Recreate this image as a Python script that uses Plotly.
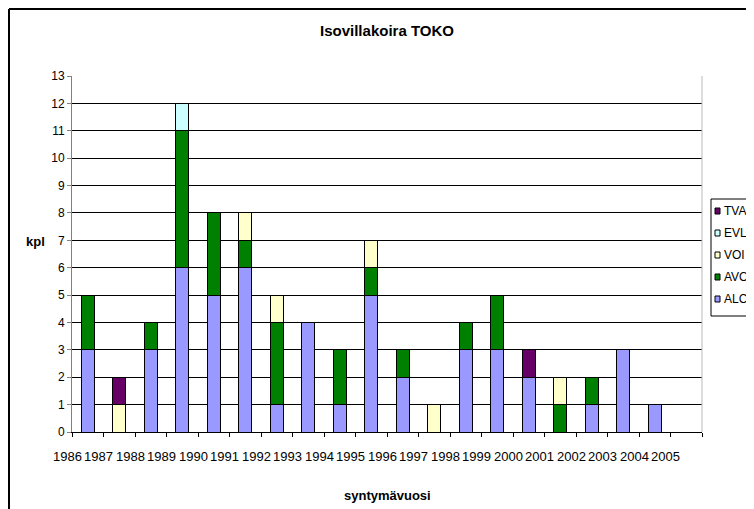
import plotly.graph_objects as go

# stacked counts per birth year
years = [str(y) for y in range(1986, 2006)]
alc = [3, 0, 3, 6, 5, 6, 1, 4, 1, 5, 2, 0, 3, 3, 2, 0, 1, 3, 1, 0]
avo = [2, 0, 1, 5, 3, 1, 3, 0, 2, 1, 1, 0, 1, 2, 0, 1, 1, 0, 0, 0]
voi = [0, 1, 0, 0, 0, 1, 1, 0, 0, 1, 0, 1, 0, 0, 0, 1, 0, 0, 0, 0]
evl = [0, 0, 0, 1, 0, 0, 0, 0, 0, 0, 0, 0, 0, 0, 0, 0, 0, 0, 0, 0]
tva = [0, 1, 0, 0, 0, 0, 0, 0, 0, 0, 0, 0, 0, 0, 1, 0, 0, 0, 0, 0]

series = [
    ("ALC", alc, "#9999FF"),
    ("AVO", avo, "#008000"),
    ("VOI", voi, "#FFFFCC"),
    ("EVL", evl, "#CCFFFF"),
    ("TVA", tva, "#660066"),
]

font = "Liberation Sans, Arial, sans-serif"
idx = list(range(len(years)))

# the page has an 8px body margin, so everything is laid out 8px up/left
W, H = 746, 501
L, T, PW, PH = 64, 68, 630, 356


def px(fx):
    return (fx - L) / PW


def py(fy):
    return (T + PH - fy) / PH


fig = go.Figure()
for name, vals, color in series:
    fig.add_trace(go.Bar(
        x=idx, y=vals, name=name, width=0.4, showlegend=False,
        marker=dict(color=color, line=dict(color="black", width=1)),
    ))

fig.update_layout(
    barmode="stack",
    width=W, height=H,
    margin=dict(l=L, r=W - L - PW, t=T, b=H - T - PH, autoexpand=False),
    paper_bgcolor="white", plot_bgcolor="white",
    font=dict(family=font, size=12, color="black"),
    title=dict(text="<b>Isovillakoira TOKO</b>", x=0.5, xref="paper",
               y=1 - 23 / H, yref="container", yanchor="middle",
               font=dict(size=15)),
    xaxis=dict(
        range=[-0.5, 19.5],
        tickmode="array", tickvals=[i - 0.5 for i in range(21)],
        showticklabels=False,
        ticks="outside", ticklen=4, tickcolor="black",
        showgrid=False, zeroline=False,
        showline=True, linecolor="black",
    ),
    yaxis=dict(
        range=[0, 13], dtick=1,
        ticks="outside", ticklen=4, tickcolor="gray",
        tickfont=dict(size=12),
        showgrid=True, gridcolor="black", gridwidth=1,
        zeroline=False, showline=True, linecolor="gray",
    ),
)

# year labels: excel drew them shifted left of the bars,
# the first one sits left of the axis so place them in axis-domain units
n = len(years)
for i, yr in zip(idx, years):
    fig.add_annotation(text=yr, x=(i + 0.5 - 0.65) / n, xref="x domain",
                       y=py(448), yref="paper",
                       showarrow=False, xanchor="center", yanchor="middle",
                       font=dict(size=13))

# right edge of plot area in light gray
fig.add_shape(type="line", xref="paper", yref="paper", x0=1, x1=1, y0=0, y1=1,
              line=dict(color="#bbbbbb", width=1))

# outer chart border: only top and left show, it runs off right and bottom
fig.add_shape(type="line", xref="paper", yref="paper",
              x0=px(1), x1=px(760), y0=py(1), y1=py(1),
              line=dict(color="black", width=2), layer="above")
fig.add_shape(type="line", xref="paper", yref="paper",
              x0=px(1), x1=px(1), y0=py(1), y1=py(520),
              line=dict(color="black", width=2), layer="above")

# legend box drawn by hand so it can sit cut off at the right edge like excel's
fig.add_shape(type="rect", xref="paper", yref="paper",
              x0=px(703), x1=1.3, y0=py(308), y1=py(191),
              line=dict(color="black", width=1), fillcolor="white")
for k, (name, _, color) in enumerate(reversed(series)):
    cy = 203 + 22 * k
    fig.add_shape(type="rect", xref="paper", yref="paper",
                  x0=px(707), x1=px(712), y0=py(cy + 3), y1=py(cy - 3),
                  line=dict(color="black", width=1), fillcolor=color)
    fig.add_annotation(text=name, xref="paper", yref="paper",
                       x=px(714), y=py(cy), showarrow=False,
                       xanchor="left", yanchor="middle", font=dict(size=12))

fig.add_annotation(text="<b>kpl</b>", xref="paper", yref="paper",
                   x=px(27), y=py(233),
                   showarrow=False, xanchor="center", yanchor="middle",
                   font=dict(size=13))
fig.add_annotation(text="<b>syntymävuosi</b>", xref="paper", yref="paper",
                   x=0.5, y=py(487),
                   showarrow=False, xanchor="center", yanchor="middle",
                   font=dict(size=13))

fig.write_html("out.html")
